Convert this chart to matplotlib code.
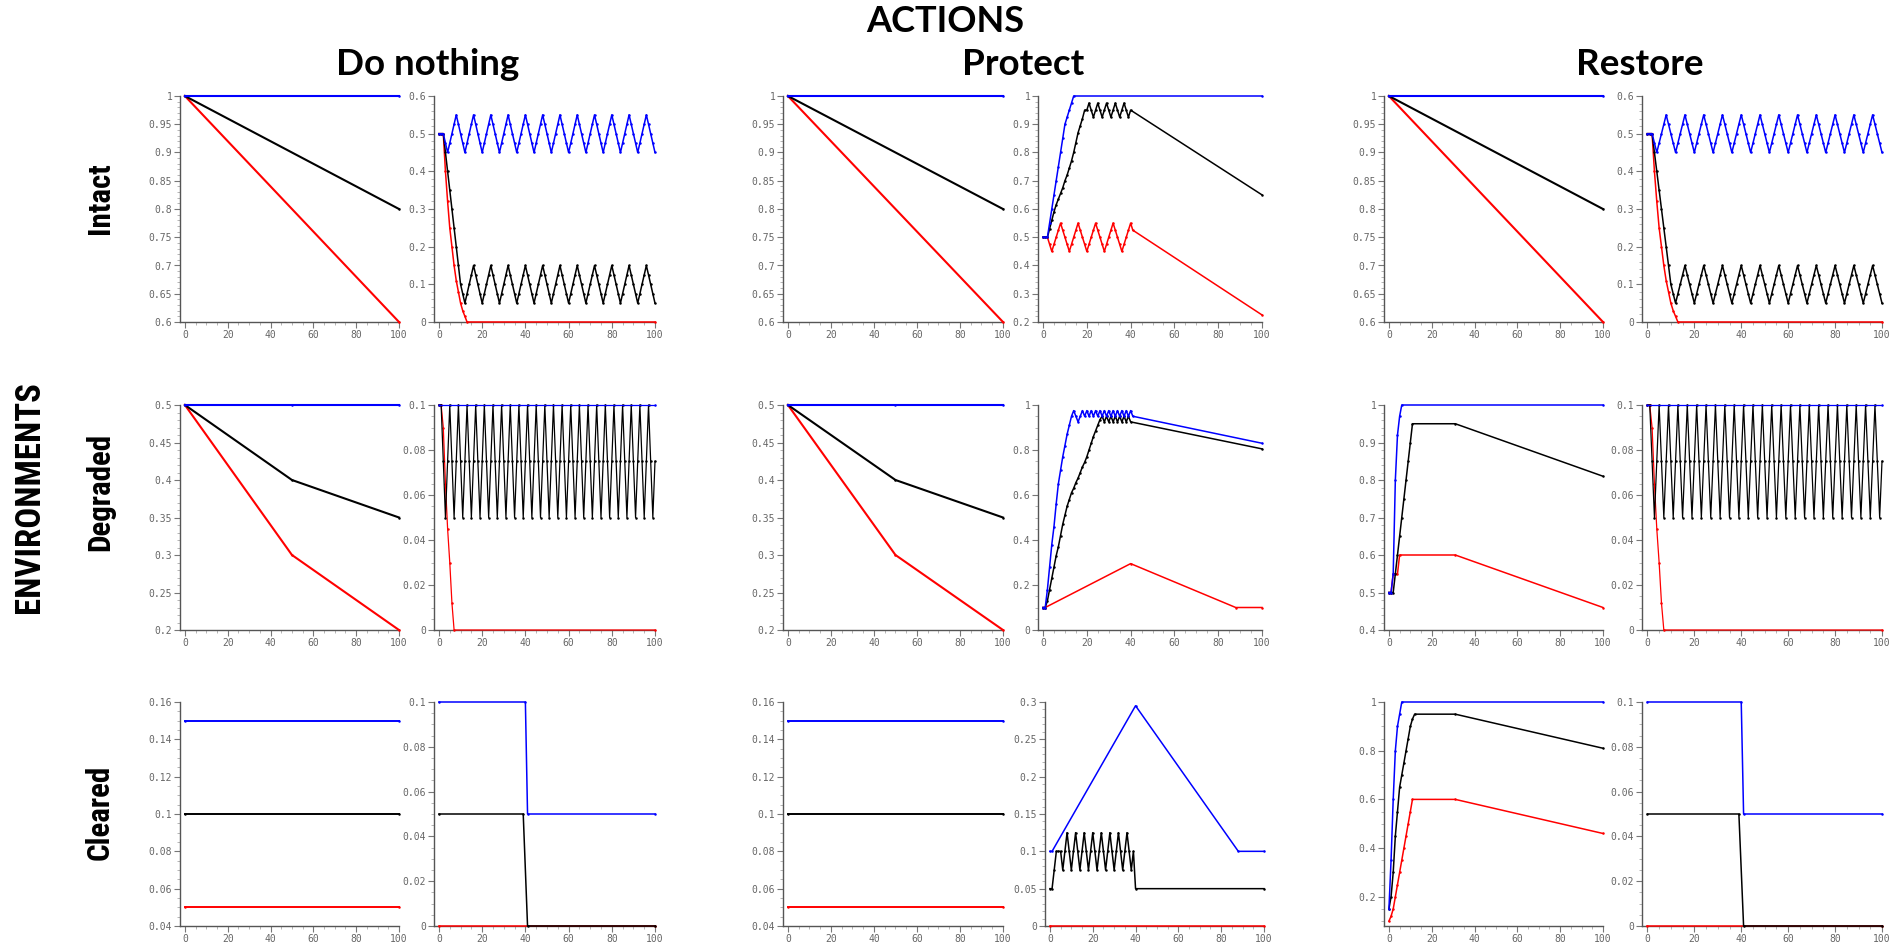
import matplotlib
matplotlib.use("Agg")
import matplotlib.pyplot as plt
from matplotlib.ticker import AutoMinorLocator
from matplotlib import font_manager

# ---------------- data ----------------
XTICKS = [0, 20, 40, 60, 80, 100]
X_ENDS = [0, 100]
X_ALL = list(range(101))

# Row 1 : Intact
INT_L_BLUE = [1.0, 1.0]
INT_L_BLACK = [1.0, 0.8]
INT_L_RED = [1.0, 0.6]

INT_R_BLUE = [0.5, 0.5, 0.5, 0.475,
              0.45, 0.475, 0.5, 0.525, 0.55, 0.525, 0.5, 0.475,
              0.45, 0.475, 0.5, 0.525, 0.55, 0.525, 0.5, 0.475,
              0.45, 0.475, 0.5, 0.525, 0.55, 0.525, 0.5, 0.475,
              0.45, 0.475, 0.5, 0.525, 0.55, 0.525, 0.5, 0.475,
              0.45, 0.475, 0.5, 0.525, 0.55, 0.525, 0.5, 0.475,
              0.45, 0.475, 0.5, 0.525, 0.55, 0.525, 0.5, 0.475,
              0.45, 0.475, 0.5, 0.525, 0.55, 0.525, 0.5, 0.475,
              0.45, 0.475, 0.5, 0.525, 0.55, 0.525, 0.5, 0.475,
              0.45, 0.475, 0.5, 0.525, 0.55, 0.525, 0.5, 0.475,
              0.45, 0.475, 0.5, 0.525, 0.55, 0.525, 0.5, 0.475,
              0.45, 0.475, 0.5, 0.525, 0.55, 0.525, 0.5, 0.475,
              0.45, 0.475, 0.5, 0.525, 0.55, 0.525, 0.5, 0.475,
              0.45]
INT_R_BLACK = [0.5, 0.5, 0.5, 0.45, 0.4, 0.35, 0.3, 0.25, 0.2, 0.15, 0.1, 0.075,
               0.05, 0.075, 0.1, 0.125, 0.15, 0.125, 0.1, 0.075,
               0.05, 0.075, 0.1, 0.125, 0.15, 0.125, 0.1, 0.075,
               0.05, 0.075, 0.1, 0.125, 0.15, 0.125, 0.1, 0.075,
               0.05, 0.075, 0.1, 0.125, 0.15, 0.125, 0.1, 0.075,
               0.05, 0.075, 0.1, 0.125, 0.15, 0.125, 0.1, 0.075,
               0.05, 0.075, 0.1, 0.125, 0.15, 0.125, 0.1, 0.075,
               0.05, 0.075, 0.1, 0.125, 0.15, 0.125, 0.1, 0.075,
               0.05, 0.075, 0.1, 0.125, 0.15, 0.125, 0.1, 0.075,
               0.05, 0.075, 0.1, 0.125, 0.15, 0.125, 0.1, 0.075,
               0.05, 0.075, 0.1, 0.125, 0.15, 0.125, 0.1, 0.075,
               0.05, 0.075, 0.1, 0.125, 0.15, 0.125, 0.1, 0.075,
               0.05]
INT_R_RED_X = [0, 1, 2, 3, 4, 5, 6, 7, 8, 9, 10, 11, 12, 13, 100]
INT_R_RED = [0.5, 0.5, 0.5, 0.4, 0.32, 0.25, 0.2, 0.15, 0.11, 0.08, 0.05, 0.03, 0.015, 0.0, 0.0]

PRO_INT_R_BLUE_X = [0, 1, 2, 3, 4, 5, 6, 7, 8, 9, 10, 11, 12, 13, 14, 100]
PRO_INT_R_BLUE = [0.5, 0.5, 0.5, 0.55, 0.6, 0.65, 0.7, 0.75, 0.8, 0.85, 0.9, 0.925, 0.95, 0.975, 1.0, 1.0]
PRO_INT_R_BLACK_X = list(range(41)) + [100]
PRO_INT_R_BLACK = [0.5, 0.5, 0.5, 0.53, 0.56, 0.59, 0.615, 0.635, 0.655, 0.675,
                   0.7, 0.72, 0.745, 0.77, 0.8, 0.835, 0.87, 0.895, 0.92, 0.95,
                   0.95, 0.975, 0.95, 0.925, 0.95, 0.975, 0.95, 0.925, 0.95, 0.975,
                   0.95, 0.925, 0.95, 0.975, 0.95, 0.925, 0.95, 0.975, 0.95, 0.925,
                   0.95, 0.65]
PRO_INT_R_RED_X = list(range(42)) + [100]
PRO_INT_R_RED = [0.5, 0.5, 0.5, 0.475,
                 0.45, 0.475, 0.5, 0.525, 0.55, 0.525, 0.5, 0.475,
                 0.45, 0.475, 0.5, 0.525, 0.55, 0.525, 0.5, 0.475,
                 0.45, 0.475, 0.5, 0.525, 0.55, 0.525, 0.5, 0.475,
                 0.45, 0.475, 0.5, 0.525, 0.55, 0.525, 0.5, 0.475,
                 0.45, 0.475, 0.5, 0.525, 0.55, 0.525,
                 0.225]

# Row 2 : Degraded
DEG_L_X = [0, 50, 100]
DEG_L_BLUE = [0.5, 0.5, 0.5]
DEG_L_BLACK = [0.5, 0.4, 0.35]
DEG_L_RED = [0.5, 0.3, 0.2]

DEG_R_BLUE = [0.1, 0.1]
DEG_R_BLACK = [0.1,
               0.1, 0.075, 0.05, 0.075, 0.1, 0.075, 0.05, 0.075, 0.1, 0.075, 0.05, 0.075, 0.1, 0.075, 0.05, 0.075, 0.1, 0.075, 0.05, 0.075,
               0.1, 0.075, 0.05, 0.075, 0.1, 0.075, 0.05, 0.075, 0.1, 0.075, 0.05, 0.075, 0.1, 0.075, 0.05, 0.075, 0.1, 0.075, 0.05, 0.075,
               0.1, 0.075, 0.05, 0.075, 0.1, 0.075, 0.05, 0.075, 0.1, 0.075, 0.05, 0.075, 0.1, 0.075, 0.05, 0.075, 0.1, 0.075, 0.05, 0.075,
               0.1, 0.075, 0.05, 0.075, 0.1, 0.075, 0.05, 0.075, 0.1, 0.075, 0.05, 0.075, 0.1, 0.075, 0.05, 0.075, 0.1, 0.075, 0.05, 0.075,
               0.1, 0.075, 0.05, 0.075, 0.1, 0.075, 0.05, 0.075, 0.1, 0.075, 0.05, 0.075, 0.1, 0.075, 0.05, 0.075, 0.1, 0.075, 0.05, 0.075]
DEG_R_RED_X = [0, 1, 2, 3, 4, 5, 6, 7, 100]
DEG_R_RED = [0.1, 0.1, 0.09, 0.065, 0.045, 0.03, 0.012, 0.0, 0.0]

PRO_DEG_R_BLUE_X = list(range(42)) + [100]
PRO_DEG_R_BLUE = [0.1, 0.1, 0.18, 0.28, 0.38, 0.46, 0.56, 0.65, 0.71, 0.77,
                  0.82, 0.87, 0.91, 0.95, 0.975, 0.95, 0.925, 0.95, 0.975, 0.95,
                  0.975, 0.95, 0.975, 0.95, 0.975, 0.95, 0.975, 0.95, 0.975, 0.95,
                  0.975, 0.95, 0.975, 0.95, 0.975, 0.95, 0.975, 0.95, 0.975, 0.95,
                  0.975, 0.95, 0.83]
PRO_DEG_R_BLACK_X = list(range(41)) + [100]
PRO_DEG_R_BLACK = [0.1, 0.1, 0.13, 0.18, 0.23, 0.28, 0.33, 0.37, 0.42, 0.47,
                   0.51, 0.55, 0.58, 0.61, 0.63, 0.655, 0.675, 0.7, 0.725, 0.745,
                   0.77, 0.8, 0.83, 0.86, 0.885, 0.91, 0.935, 0.95, 0.925, 0.95,
                   0.925, 0.95, 0.925, 0.95, 0.925, 0.95, 0.925, 0.95, 0.925, 0.95,
                   0.925, 0.805]
PRO_DEG_R_RED_X = [0, 1, 40, 88, 100]
PRO_DEG_R_RED = [0.1, 0.1, 0.295, 0.1, 0.1]

RES_DEG_L_BLUE_X = [0, 1, 2, 3, 4, 5, 6, 100]
RES_DEG_L_BLUE = [0.5, 0.5, 0.55, 0.8, 0.92, 0.97, 1.0, 1.0]
RES_DEG_L_BLACK_X = [0, 1, 2, 3, 4, 5, 6, 7, 8, 9, 10, 11, 31, 100]
RES_DEG_L_BLACK = [0.5, 0.5, 0.5, 0.55, 0.6, 0.65, 0.7, 0.75, 0.8, 0.85, 0.9, 0.95, 0.95, 0.81]
RES_DEG_L_RED_X = [0, 1, 2, 3, 4, 5, 31, 100]
RES_DEG_L_RED = [0.5, 0.5, 0.55, 0.55, 0.55, 0.6, 0.6, 0.46]

# Row 3 : Cleared
CLR_L_BLUE = [0.15, 0.15]
CLR_L_BLACK = [0.1, 0.1]
CLR_L_RED = [0.05, 0.05]

CLR_R_BLUE_X = [0, 40, 41, 100]
CLR_R_BLUE = [0.1, 0.1, 0.05, 0.05]
CLR_R_BLACK_X = [0, 39, 41, 100]
CLR_R_BLACK = [0.05, 0.05, 0.0, 0.0]
CLR_R_RED = [0.0, 0.0]

PRO_CLR_R_BLUE_X = [0, 1, 40, 88, 100]
PRO_CLR_R_BLUE = [0.1, 0.1, 0.295, 0.1, 0.1]
PRO_CLR_R_BLACK_X = list(range(41)) + [100]
PRO_CLR_R_BLACK = [0.05, 0.05, 0.075, 0.1, 0.1, 0.1, 0.075, 0.1, 0.125, 0.1,
                   0.075, 0.1, 0.125, 0.1, 0.075, 0.1, 0.125, 0.1, 0.075, 0.1,
                   0.125, 0.1, 0.075, 0.1, 0.125, 0.1, 0.075, 0.1, 0.125, 0.1,
                   0.075, 0.1, 0.125, 0.1, 0.075, 0.1, 0.125, 0.1, 0.075, 0.1,
                   0.05, 0.05]
PRO_CLR_R_RED = [0.0, 0.0]

RES_CLR_L_BLUE_X = [0, 1, 2, 3, 4, 5, 6, 100]
RES_CLR_L_BLUE = [0.15, 0.35, 0.6, 0.8, 0.9, 0.95, 1.0, 1.0]
RES_CLR_L_BLACK_X = [0, 1, 2, 3, 4, 5, 6, 7, 8, 9, 10, 11, 12, 31, 100]
RES_CLR_L_BLACK = [0.15, 0.2, 0.3, 0.45, 0.55, 0.65, 0.7, 0.75, 0.8, 0.85, 0.9, 0.93, 0.95, 0.95, 0.81]
RES_CLR_L_RED_X = [0, 1, 2, 3, 4, 5, 6, 7, 8, 9, 10, 11, 31, 100]
RES_CLR_L_RED = [0.1, 0.12, 0.15, 0.2, 0.25, 0.3, 0.35, 0.4, 0.45, 0.5, 0.55, 0.6, 0.6, 0.46]

# tick sets
YT_INT_L = [0.6, 0.65, 0.7, 0.75, 0.8, 0.85, 0.9, 0.95, 1.0]
YT_INT_R = [0.0, 0.1, 0.2, 0.3, 0.4, 0.5, 0.6]
YT_PRO_INT_R = [0.2, 0.3, 0.4, 0.5, 0.6, 0.7, 0.8, 0.9, 1.0]
YT_DEG_L = [0.2, 0.25, 0.3, 0.35, 0.4, 0.45, 0.5]
YT_SMALL = [0.0, 0.02, 0.04, 0.06, 0.08, 0.1]
YT_UNIT = [0.0, 0.2, 0.4, 0.6, 0.8, 1.0]
YT_RES_CLR_L = [0.2, 0.4, 0.6, 0.8, 1.0]
YT_RES_DEG_L = [0.4, 0.5, 0.6, 0.7, 0.8, 0.9, 1.0]
YT_CLR_L = [0.04, 0.06, 0.08, 0.1, 0.12, 0.14, 0.16]
YT_PRO_CLR_R = [0.0, 0.05, 0.1, 0.15, 0.2, 0.25, 0.3]

COL_TITLES = ["Do nothing", "Protect", "Restore"]
ROW_TITLES = ["Intact", "Degraded", "Cleared"]

# ---------------- drawing ----------------
W, H = 1893, 947
fig = plt.figure(figsize=(W / 100, H / 100), dpi=100)
fig.patch.set_facecolor("white")

BLUE, BLACK, RED = "#0000ff", "#000000", "#ff0000"


def panel(L, R, T, B, ylim, yticks, ysub, series, lw=1.1):
    ax = fig.add_axes([L / W, 1 - B / H, (R - L) / W, (B - T) / H])
    for xs, ys, c in series:
        ax.plot(xs, ys, color=c, lw=lw, marker=".", ms=3.6, mew=0,
                clip_on=False, zorder=3)
    ax.set_xlim(-2.3, 100)
    ax.set_ylim(*ylim)
    ax.set_xticks(XTICKS)
    ax.set_xticklabels([str(v) for v in XTICKS])
    ax.set_yticks(yticks)
    ax.set_yticklabels([f"{v:g}" for v in yticks])
    ax.xaxis.set_minor_locator(AutoMinorLocator(4))
    ax.yaxis.set_minor_locator(AutoMinorLocator(ysub))
    for s in ["top", "right"]:
        ax.spines[s].set_visible(False)
    for s in ["left", "bottom"]:
        ax.spines[s].set_color("#555555")
        ax.spines[s].set_linewidth(1.0)
    ax.tick_params(which="major", length=4, width=0.8, color="#777777",
                   labelsize=7, labelcolor="#666666", pad=1.5)
    ax.tick_params(which="minor", length=2, width=0.6, color="#aaaaaa")
    for lbl in ax.get_xticklabels() + ax.get_yticklabels():
        lbl.set_fontfamily("DejaVu Sans Mono")
    ax.set_facecolor("none")
    return ax


ROWS = [(96, 322), (405, 630), (702, 926)]
COLS = [((180, 399), (434, 655)), ((783, 1003), (1038, 1262)), ((1384, 1603), (1642, 1882))]

# Row 1
T, B = ROWS[0]
int_left = [(X_ENDS, INT_L_RED, RED), (X_ENDS, INT_L_BLACK, BLACK), (X_ENDS, INT_L_BLUE, BLUE)]
int_right = [(INT_R_RED_X, INT_R_RED, RED), (X_ALL, INT_R_BLACK, BLACK), (X_ALL, INT_R_BLUE, BLUE)]
for c in range(3):
    (l1, r1), (l2, r2) = COLS[c]
    panel(l1, r1, T, B, (0.6, 1.0), YT_INT_L, 5, int_left, lw=1.5)
    if c == 1:
        panel(l2, r2, T, B, (0.2, 1.0), YT_PRO_INT_R, 5,
              [(PRO_INT_R_RED_X, PRO_INT_R_RED, RED),
               (PRO_INT_R_BLACK_X, PRO_INT_R_BLACK, BLACK),
               (PRO_INT_R_BLUE_X, PRO_INT_R_BLUE, BLUE)])
    else:
        panel(l2, r2, T, B, (0.0, 0.6), YT_INT_R, 5, int_right)

# Row 2
T, B = ROWS[1]
deg_left = [(DEG_L_X, DEG_L_RED, RED), (DEG_L_X, DEG_L_BLACK, BLACK), (DEG_L_X, DEG_L_BLUE, BLUE)]
deg_right = [(DEG_R_RED_X, DEG_R_RED, RED), (X_ALL, DEG_R_BLACK, BLACK), (X_ENDS, DEG_R_BLUE, BLUE)]
(l1, r1), (l2, r2) = COLS[0]
panel(l1, r1, T, B, (0.2, 0.5), YT_DEG_L, 5, deg_left, lw=1.5)
panel(l2, r2, T, B, (0.0, 0.1), YT_SMALL, 4, deg_right, lw=0.9)
(l1, r1), (l2, r2) = COLS[1]
panel(l1, r1, T, B, (0.2, 0.5), YT_DEG_L, 5, deg_left, lw=1.5)
panel(l2, r2, T, B, (0.0, 1.0), YT_UNIT, 4,
      [(PRO_DEG_R_RED_X, PRO_DEG_R_RED, RED),
       (PRO_DEG_R_BLACK_X, PRO_DEG_R_BLACK, BLACK),
       (PRO_DEG_R_BLUE_X, PRO_DEG_R_BLUE, BLUE)])
(l1, r1), (l2, r2) = COLS[2]
panel(l1, r1, T, B, (0.4, 1.0), YT_RES_DEG_L, 5,
      [(RES_DEG_L_RED_X, RES_DEG_L_RED, RED),
       (RES_DEG_L_BLACK_X, RES_DEG_L_BLACK, BLACK),
       (RES_DEG_L_BLUE_X, RES_DEG_L_BLUE, BLUE)])
panel(l2, r2, T, B, (0.0, 0.1), YT_SMALL, 4, deg_right, lw=0.9)

# Row 3
T, B = ROWS[2]
clr_left = [(X_ENDS, CLR_L_RED, RED), (X_ENDS, CLR_L_BLACK, BLACK), (X_ENDS, CLR_L_BLUE, BLUE)]
clr_right = [(X_ENDS, CLR_R_RED, RED), (CLR_R_BLACK_X, CLR_R_BLACK, BLACK), (CLR_R_BLUE_X, CLR_R_BLUE, BLUE)]
(l1, r1), (l2, r2) = COLS[0]
panel(l1, r1, T, B, (0.04, 0.16), YT_CLR_L, 4, clr_left, lw=1.4)
panel(l2, r2, T, B, (0.0, 0.1), YT_SMALL, 4, clr_right)
(l1, r1), (l2, r2) = COLS[1]
panel(l1, r1, T, B, (0.04, 0.16), YT_CLR_L, 4, clr_left, lw=1.4)
panel(1045, 1264, T, B, (0.0, 0.3), YT_PRO_CLR_R, 5,
      [(X_ENDS, PRO_CLR_R_RED, RED),
       (PRO_CLR_R_BLACK_X, PRO_CLR_R_BLACK, BLACK),
       (PRO_CLR_R_BLUE_X, PRO_CLR_R_BLUE, BLUE)])
(l1, r1), (l2, r2) = COLS[2]
panel(l1, r1, T, B, (0.08, 1.0), YT_RES_CLR_L, 4,
      [(RES_CLR_L_RED_X, RES_CLR_L_RED, RED),
       (RES_CLR_L_BLACK_X, RES_CLR_L_BLACK, BLACK),
       (RES_CLR_L_BLUE_X, RES_CLR_L_BLUE, BLUE)])
panel(l2, r2, T, B, (0.0, 0.1), YT_SMALL, 4, clr_right)

# ---------------- text ----------------
TITLE_FONT = ["Lato", "DejaVu Sans"]
_available = {f.name for f in font_manager.fontManager.ttflist}
_cond = "Lato"
for _name in ["Roboto Condensed", "Liberation Sans Narrow", "Open Sans Condensed",
              "Noto Sans Condensed", "DejaVu Sans Condensed", "Lato"]:
    if _name in _available:
        _cond = _name
        break
COND_FONT = [_cond, "DejaVu Sans"]

fig.text(945 / W, 1 - 22 / H, "ACTIONS", ha="center", va="center",
         fontsize=26, fontweight="bold", family=TITLE_FONT)
for x, t in zip([428, 1023, 1640], COL_TITLES):
    fig.text(x / W, 1 - 75 / H, t, ha="center", va="baseline",
             fontsize=26.5, fontweight="bold", family=TITLE_FONT)

renderer = fig.canvas.get_renderer()


def fitted_size(s, target_len, size0):
    t = fig.text(0, 0, s, rotation=90, fontsize=size0, fontweight="heavy",
                 family=COND_FONT)
    length = t.get_window_extent(renderer).height
    t.remove()
    return size0 * target_len / length


row_size = fitted_size(ROW_TITLES[1], 118, 22)
for y, t in zip([198, 492, 812], ROW_TITLES):
    fig.text(100 / W, 1 - y / H, t, ha="center", va="center", rotation=90,
             fontsize=row_size, fontweight="heavy", family=COND_FONT)
env_size = fitted_size("ENVIRONMENTS", 232, 26)
fig.text(30 / W, 1 - 497 / H, "ENVIRONMENTS", ha="center", va="center",
         rotation=90, fontsize=env_size, fontweight="heavy", family=COND_FONT)

fig.savefig("out.png", dpi=100, facecolor="white")
